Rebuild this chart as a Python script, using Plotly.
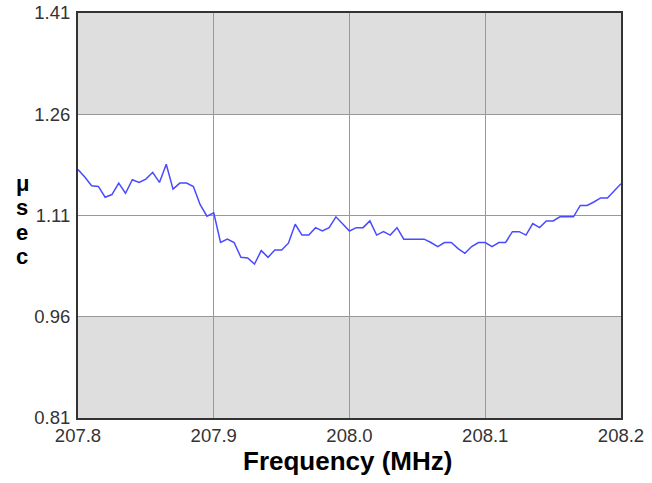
import plotly.graph_objects as go

freq_mhz = [
    207.800, 207.805, 207.810, 207.815, 207.820, 207.825, 207.830, 207.835, 207.840, 207.845,
    207.850, 207.855, 207.860, 207.865, 207.870, 207.875, 207.880, 207.885, 207.890, 207.895,
    207.900, 207.905, 207.910, 207.915, 207.920, 207.925, 207.930, 207.935, 207.940, 207.945,
    207.950, 207.955, 207.960, 207.965, 207.970, 207.975, 207.980, 207.985, 207.990, 207.995,
    208.000, 208.005, 208.010, 208.015, 208.020, 208.025, 208.030, 208.035, 208.040, 208.045,
    208.050, 208.055, 208.060, 208.065, 208.070, 208.075, 208.080, 208.085, 208.090, 208.095,
    208.100, 208.105, 208.110, 208.115, 208.120, 208.125, 208.130, 208.135, 208.140, 208.145,
    208.150, 208.155, 208.160, 208.165, 208.170, 208.175, 208.180, 208.185, 208.190, 208.195,
    208.200,
]
delay_usec = [
    1.178, 1.167, 1.154, 1.153, 1.137, 1.141, 1.158, 1.143, 1.163, 1.159,
    1.164, 1.174, 1.159, 1.186, 1.149, 1.158, 1.158, 1.153, 1.126, 1.109,
    1.114, 1.070, 1.075, 1.070, 1.048, 1.047, 1.038, 1.058, 1.048, 1.059,
    1.059, 1.069, 1.097, 1.081, 1.081, 1.092, 1.087, 1.092, 1.108, 1.098,
    1.087, 1.092, 1.092, 1.102, 1.081, 1.086, 1.081, 1.092, 1.075, 1.075,
    1.075, 1.075, 1.070, 1.064, 1.070, 1.070, 1.061, 1.054, 1.064, 1.070,
    1.070, 1.064, 1.070, 1.070, 1.086, 1.086, 1.081, 1.098, 1.092, 1.102,
    1.102, 1.108, 1.108, 1.108, 1.125, 1.125, 1.130, 1.136, 1.136, 1.146,
    1.157,
]
x_ticks = [207.8, 207.9, 208.0, 208.1, 208.2]
x_tick_labels = ["207.8", "207.9", "208.0", "208.1", "208.2"]
y_ticks = [0.81, 0.96, 1.11, 1.26, 1.41]
y_tick_labels = ["0.81", "0.96", "1.11", "1.26", "1.41"]
gray_bands = [(0.81, 0.96), (1.26, 1.41)]
y_title_letters = ["μ", "s", "e", "c"]
x_title = "Frequency (MHz)"

font = "Arial, Liberation Sans, sans-serif"

fig = go.Figure()
fig.add_trace(go.Scatter(
    x=freq_mhz, y=delay_usec, mode="lines",
    line=dict(color="#4a4aff", width=1.5),
    showlegend=False, hoverinfo="skip",
))

for lo, hi in gray_bands:
    fig.add_shape(type="rect", xref="x domain", yref="y", x0=0, x1=1, y0=lo, y1=hi,
                  fillcolor="#dedede", line=dict(width=0), layer="below")

# vertical stacked y-axis title, one letter per line (paper coords)
letter_y = [0.5802, 0.5195, 0.4588, 0.3980]
for ch, yy in zip(y_title_letters, letter_y):
    fig.add_annotation(text="<b>%s</b>" % ch, xref="paper", yref="paper",
                       x=-0.103, y=yy, xanchor="center", yanchor="middle",
                       showarrow=False,
                       font=dict(family=font, size=22, color="black"))

fig.add_annotation(text="<b>%s</b>" % x_title, xref="paper", yref="paper",
                   x=0.496, y=-0.106, xanchor="center", yanchor="middle",
                   showarrow=False,
                   font=dict(family=font, size=26, color="black"))

fig.update_layout(
    width=652, height=483,
    margin=dict(l=78, r=31, t=13, b=65, autoexpand=False),
    paper_bgcolor="white", plot_bgcolor="white",
    font=dict(family=font, size=18.5, color="#333333"),
    xaxis=dict(
        range=[207.8, 208.2], tickvals=x_ticks, ticktext=x_tick_labels,
        showgrid=True, gridcolor="#999999", gridwidth=1,
        showline=True, linecolor="#333333", linewidth=2, mirror=True,
        ticks="", zeroline=False, automargin=False,
    ),
    yaxis=dict(
        range=[0.81, 1.41], tickvals=y_ticks, ticktext=y_tick_labels,
        showgrid=True, gridcolor="#999999", gridwidth=1,
        showline=True, linecolor="#333333", linewidth=2, mirror=True,
        ticks="", zeroline=False, ticklabelstandoff=2, automargin=False,
    ),
)

fig.write_html("out.html", config={"displayModeBar": False},
               post_script="document.body.style.margin='0';document.body.style.overflow='hidden';")
